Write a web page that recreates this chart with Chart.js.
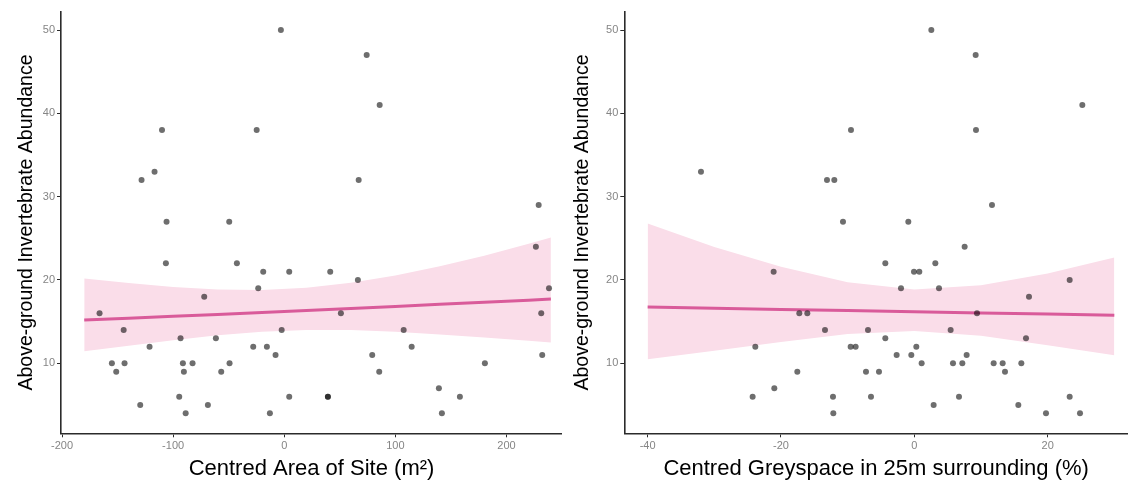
<!DOCTYPE html>
<html>
<head>
<meta charset="utf-8">
<script src="https://cdn.jsdelivr.net/npm/chart.js@4/dist/chart.umd.min.js"></script>
<style>
  html, body { margin: 0; padding: 0; background: #ffffff; }
  body { width: 1128px; height: 484px; position: relative; overflow: hidden; }
  .panel { position: absolute; top: 0; height: 484px; }
  #areaPanel { left: 0; width: 562px; }
  #greyPanel { left: 562px; width: 566px; }
</style>
</head>
<body>
<div class="panel" id="areaPanel"><canvas id="areaChart" width="562" height="484"></canvas></div>
<div class="panel" id="greyPanel"><canvas id="greyChart" width="566" height="484"></canvas></div>
<script>
// Site area (centred, m²) against invertebrate abundance
const areaX = [-3, -110, -24.8, -128.4, -116.7, 74.2, 85.9, 67, 229, -105.9, -49.5, -106.5, -42.6, -18.9, 4.5,
  -23.4, -72, -166.2, -144.5, -2.3, -93.3, -61.5, -121.2, -27.9, -15.6, -7.8, -155.1, -143.7, -91.2, -82.5,
  -49.2, -151.2, -90.3, -56.7, -94.5, 4.5, -129.6, -68.7, -88.7, -12.9, 41.4, 66.3, 226.5, 238.3, 51,
  231.3, 107.5, 114.7, 79.2, 232.2, 180.6, 85.5, 39.3, 39.3, 139.2, 158.1, 141.9];
const areaAbund = [50, 38, 38, 32, 33, 47, 41, 32, 29, 27, 27, 22, 22, 21, 21,
  19, 18, 16, 14, 14, 13, 13, 12, 12, 12, 11, 10, 10, 10, 10,
  10, 9, 9, 9, 6, 6, 5, 5, 4, 4, 21, 20, 24, 19, 16,
  16, 14, 12, 11, 11, 10, 9, 6, 6, 7, 6, 4];

// Fitted trend and confidence band for the area model
const areaFitX = [-180, -140, -100, -60, -20, 20, 60, 100, 140, 180, 220, 240];
const areaFitY = [15.20, 15.42, 15.64, 15.87, 16.11, 16.34, 16.58, 16.83, 17.08, 17.32, 17.58, 17.71];
const areaFitLo = [11.44, 12.11, 12.77, 13.36, 13.80, 14.01, 13.99, 13.78, 13.47, 13.09, 12.70, 12.49];
const areaFitHi = [20.19, 19.63, 19.16, 18.86, 18.80, 19.06, 19.66, 20.54, 21.65, 22.92, 24.34, 25.10];

// Greyspace within 25 m (centred, %) against invertebrate abundance
const greyX = [-32, -13.1, -12, -9.5, -10.7, 2.55, 9.2, 25.2, 9.25, 11.65, -0.9, -21.1, -17.25, -16.05, -13.4,
  -6.95, -23.85, -9.55, -8.8, -17.55, -7.25, -21, -24.25, -12.2, -6.5, -12.15, 7.55, -4.35, 3.15, -0.05,
  0.75, -2, 3.7, 23.3, 17.2, 9.4, 5.45, -4.35, 16.75, 0.3, -2.65, -0.45, 7.85, 1.1, 5.8,
  7.2, 11.9, 13.25, 16.05, -5.3, 13.6, 6.7, 23.3, 2.9, 15.6, 19.75, 24.85];
const greyAbund = [33, 32, 32, 38, 27, 50, 47, 41, 38, 29, 27, 21, 16, 16, 14,
  14, 12, 12, 12, 9, 9, 7, 6, 6, 6, 4, 24, 22, 22, 21,
  21, 19, 19, 20, 18, 16, 14, 13, 13, 12, 11, 11, 11, 10, 10,
  10, 10, 10, 10, 9, 9, 6, 6, 5, 5, 4, 4];

// Fitted trend and confidence band for the greyspace model
const greyFitX = [-40, -30, -20, -10, 0, 10, 20, 30];
const greyFitY = [16.76, 16.62, 16.47, 16.33, 16.19, 16.05, 15.91, 15.77];
const greyFitLo = [10.49, 11.52, 12.57, 13.51, 13.89, 13.30, 12.17, 10.96];
const greyFitHi = [26.79, 23.97, 21.58, 19.74, 18.86, 19.37, 20.79, 22.69];

// Axis ticks and titles
const areaTicks = [-200, -100, 0, 100, 200];
const greyTicks = [-40, -20, 0, 20];
const abundTicks = [10, 20, 30, 40, 50];
const yTitle = 'Above-ground Invertebrate Abundance';
const areaTitle = 'Centred Area of Site (m²)';
const greyTitle = 'Centred Greyspace in 25m surrounding (%)';

const FONT = "'Liberation Sans', Arial, sans-serif";
const POINT = 'rgba(0,0,0,0.57)';
const TREND = '#d95b9a';
const BAND = '#fadde9';
const AXIS = '#2b2b2b';
const TICKTEXT = '#858585';

function pairs(xs, ys) { return xs.map((x, i) => ({ x: x, y: ys[i] })); }

function buildPanel(canvasId, cfg) {
  const tickFont = { family: FONT, size: 11 };
  return new Chart(document.getElementById(canvasId), {
    type: 'scatter',
    data: {
      datasets: [
        { type: 'line', data: pairs(cfg.fitX, cfg.fitLo), borderWidth: 0, borderColor: 'rgba(0,0,0,0)',
          pointRadius: 0, fill: false, order: 4 },
        { type: 'line', data: pairs(cfg.fitX, cfg.fitHi), borderWidth: 0, borderColor: 'rgba(0,0,0,0)',
          pointRadius: 0, fill: 0, backgroundColor: BAND, order: 3 },
        { type: 'line', data: pairs(cfg.fitX, cfg.fitY), borderColor: TREND, borderWidth: 3,
          pointRadius: 0, fill: false, order: 2 },
        { data: pairs(cfg.xs, cfg.ys), backgroundColor: POINT, borderWidth: 0,
          pointRadius: 3, order: 1 }
      ]
    },
    options: {
      responsive: false,
      devicePixelRatio: 1,
      animation: false,
      events: [],
      layout: { autoPadding: false, padding: { top: 11.7, right: 0, bottom: 0, left: 0 } },
      plugins: { legend: { display: false }, tooltip: { enabled: false } },
      scales: {
        x: {
          type: 'linear',
          min: cfg.xMin, max: cfg.xMax,
          afterBuildTicks: s => { s.ticks = cfg.xTicks.map(v => ({ value: v })); },
          afterFit: s => { s.height = 50.7; s.paddingLeft = 0; s.paddingRight = 0; },
          grid: { drawOnChartArea: false, drawTicks: true, tickLength: 4, color: AXIS, lineWidth: 1 },
          border: { display: true, color: AXIS, width: 1.6 },
          ticks: { color: TICKTEXT, font: tickFont, padding: 2, maxRotation: 0 },
          title: { display: true, text: cfg.xTitle, color: '#000000', font: { family: FONT, size: 22 },
                   padding: { top: 0, bottom: 2 } }
        },
        y: {
          type: 'linear',
          min: 1.6, max: 52.2,
          afterBuildTicks: s => { s.ticks = abundTicks.map(v => ({ value: v })); },
          afterFit: s => { s.width = cfg.yWidth; s.paddingTop = 0; s.paddingBottom = 0; },
          grid: { drawOnChartArea: false, drawTicks: true, tickLength: 4, color: AXIS, lineWidth: 1 },
          border: { display: true, color: AXIS, width: 1.6 },
          ticks: { color: TICKTEXT, font: tickFont, padding: 2 },
          title: { display: true, text: yTitle, color: '#000000', font: { family: FONT, size: 19.5 },
                   padding: { top: cfg.yTitlePad, bottom: 0 } }
        }
      }
    }
  });
}

buildPanel('areaChart', {
  xs: areaX, ys: areaAbund,
  fitX: areaFitX, fitY: areaFitY, fitLo: areaFitLo, fitHi: areaFitHi,
  xMin: -200.9, xMax: 250, xTicks: areaTicks, xTitle: areaTitle,
  yWidth: 61, yTitlePad: 15
});

buildPanel('greyChart', {
  xs: greyX, ys: greyAbund,
  fitX: greyFitX, fitY: greyFitY, fitLo: greyFitLo, fitHi: greyFitHi,
  xMin: -43.5, xMax: 32.05, xTicks: greyTicks, xTitle: greyTitle,
  yWidth: 62.3, yTitlePad: 9
});
</script>
</body>
</html>
